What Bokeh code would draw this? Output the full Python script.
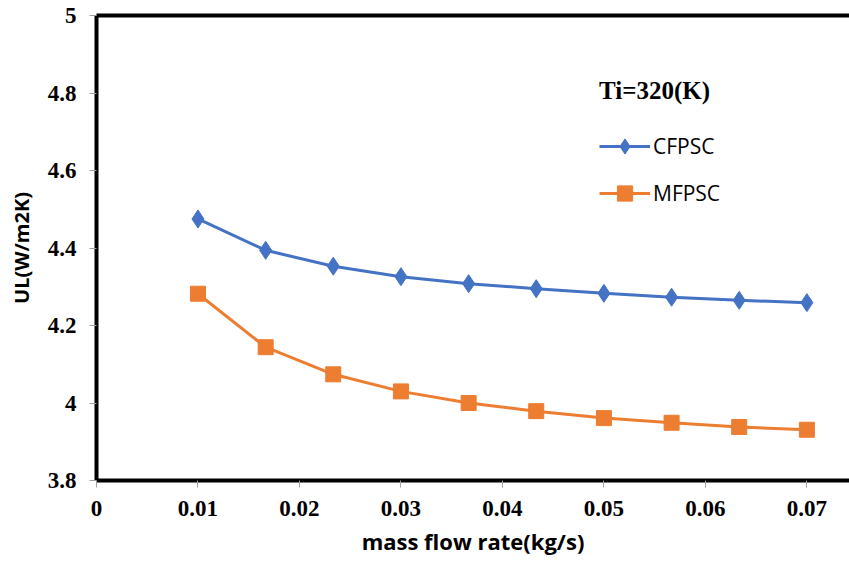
from bokeh.plotting import figure
from bokeh.models import (Range1d, FixedTicker, LinearAxis, Legend, LegendItem)
from bokeh.embed import file_html
from bokeh.resources import INLINE

# ---- data ----
mass_flow = [0.01, 0.01667, 0.02333, 0.03, 0.03667, 0.04333, 0.05, 0.05667, 0.06333, 0.07]
cfpsc = [4.475, 4.394, 4.353, 4.326, 4.308, 4.295, 4.283, 4.273, 4.265, 4.259]
mfpsc = [4.282, 4.144, 4.074, 4.030, 4.000, 3.979, 3.961, 3.949, 3.938, 3.931]
x_ticks = [0, 0.01, 0.02, 0.03, 0.04, 0.05, 0.06, 0.07]
x_tick_labels = ["0", "0.01", "0.02", "0.03", "0.04", "0.05", "0.06", "0.07"]
y_ticks = [3.8, 4.0, 4.2, 4.4, 4.6, 4.8, 5.0]
y_tick_labels = ["3.8", "4", "4.2", "4.4", "4.6", "4.8", "5"]
series_names = ["CFPSC", "MFPSC"]
legend_title = "Ti=320(K)"
x_title = "mass flow rate(kg/s)"
y_title = "UL(W/m2K)"

BLUE = "#4472C4"
ORANGE = "#ED7D31"

p = figure(width=849, height=567, output_backend="svg", toolbar_location=None,
           x_range=Range1d(0, 0.0742), y_range=Range1d(3.8, 5.0),
           min_border_left=96, min_border_right=0, min_border_top=15, min_border_bottom=87)
p.outline_line_color = None
p.xgrid.visible = False
p.ygrid.visible = False
p.background_fill_color = "white"
p.border_fill_color = "white"

for ax in (p.xaxis[0], p.yaxis[0]):
    ax.axis_line_color = "black"
    ax.axis_line_width = 4
    ax.major_tick_line_color = "#A0A0A0"
    ax.major_tick_line_width = 1
    ax.major_tick_in = 0
    ax.major_tick_out = 7
    ax.minor_tick_line_color = None
    ax.major_label_text_font = "Liberation Serif"
    ax.major_label_text_font_style = "bold"
    ax.major_label_text_font_size = "23px"
    ax.major_label_text_color = "black"
    ax.major_label_standoff = 13
    ax.axis_label_text_font = "Open Sans"
    ax.axis_label_text_font_style = "bold"
    ax.axis_label_text_color = "black"

p.xaxis[0].ticker = FixedTicker(ticks=x_ticks)
p.xaxis[0].major_label_overrides = dict(zip(x_ticks, x_tick_labels))
p.yaxis[0].ticker = FixedTicker(ticks=y_ticks)
p.yaxis[0].major_label_overrides = dict(zip(y_ticks, y_tick_labels))
p.xaxis[0].axis_label = x_title
p.yaxis[0].axis_label = y_title
p.xaxis[0].axis_label_text_font_size = "22px"
p.yaxis[0].axis_label_text_font_size = "20px"
p.xaxis[0].axis_label_standoff = 7
p.yaxis[0].axis_label_standoff = 10

top = LinearAxis(ticker=FixedTicker(ticks=[]), major_label_text_font_size="0px",
                 axis_line_color="black", axis_line_width=4, major_tick_out=0,
                 major_tick_in=0, minor_tick_line_color=None, major_label_standoff=0)
p.add_layout(top, "above")

l1 = p.line(mass_flow, cfpsc, line_color=BLUE, line_width=3)
s1 = p.scatter(mass_flow, cfpsc, marker="diamond", size=18, fill_color=BLUE, line_color=BLUE)
l2 = p.line(mass_flow, mfpsc, line_color=ORANGE, line_width=3)
s2 = p.scatter(mass_flow, mfpsc, marker="square", size=15, fill_color=ORANGE, line_color=ORANGE)

legend = Legend(items=[LegendItem(label=series_names[0], renderers=[l1, s1]),
                       LegendItem(label=series_names[1], renderers=[l2, s2])],
                location=(503, 268), title=legend_title,
                title_text_font="Liberation Serif", title_text_font_style="bold",
                title_text_font_size="25px", title_text_color="black",
                title_standoff=22,
                label_text_font="Open Sans", label_text_font_size="21px",
                label_text_color="black",
                glyph_width=51, glyph_height=38, label_height=20, spacing=9,
                label_standoff=3, padding=0, margin=0,
                border_line_color=None, background_fill_alpha=0)
p.add_layout(legend, "center")

open("out.html", "w").write(file_html(p, INLINE))
